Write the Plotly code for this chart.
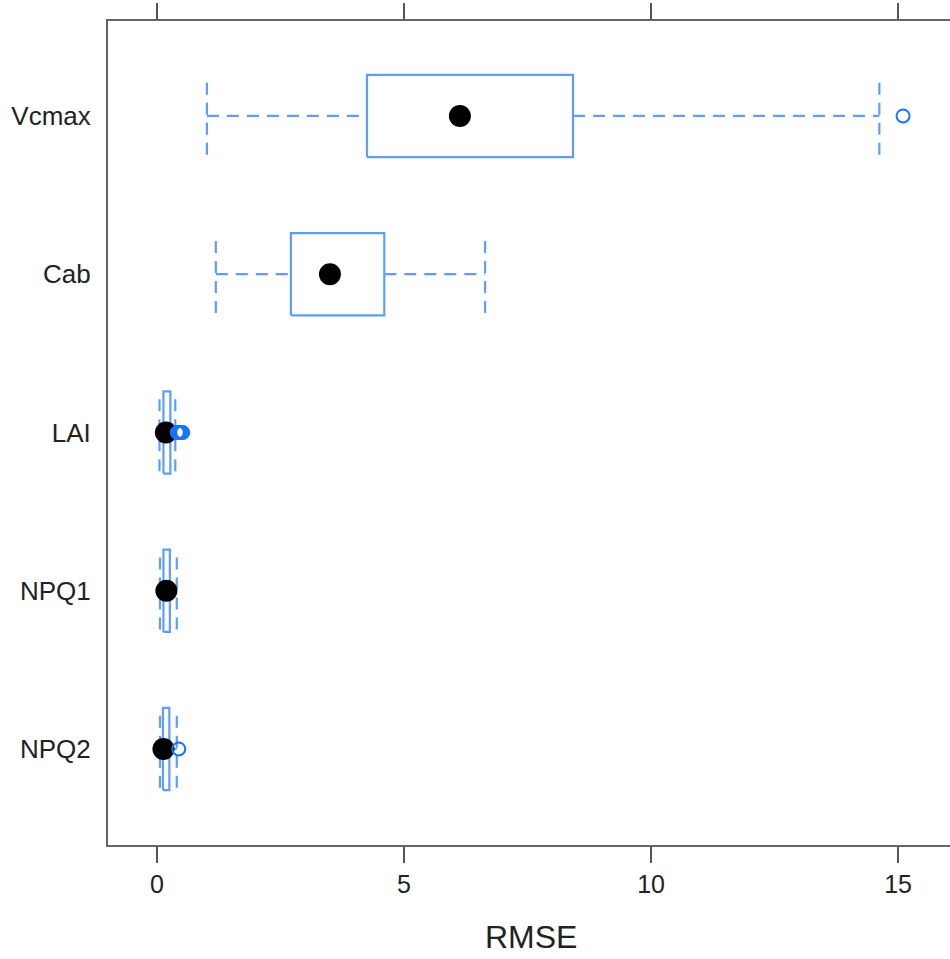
import plotly.graph_objects as go

categories = ["NPQ2", "NPQ1", "LAI", "Cab", "Vcmax"]
whisk_lo = [0.06, 0.06, 0.05, 1.19, 1.01]
q1 = [0.12, 0.13, 0.13, 2.71, 4.25]
median = [0.13, 0.19, 0.18, 3.50, 6.13]
q3 = [0.25, 0.26, 0.27, 4.60, 8.42]
whisk_hi = [0.40, 0.40, 0.37, 6.64, 14.62]
outliers = {
    "NPQ2": [0.44],
    "NPQ1": [],
    "LAI": [0.41, 0.44, 0.47, 0.50, 0.52],
    "Cab": [],
    "Vcmax": [15.1],
}
x_ticks = [0, 5, 10, 15]

LINE = "#5e9dff"
BOX_H = 0.26
CAP_H = 0.245
DASH = "12px,8px"

fig = go.Figure()
for i, cat in enumerate(categories):
    y = i
    fig.add_trace(go.Scatter(
        x=[whisk_lo[i], q1[i], None, q3[i], whisk_hi[i]],
        y=[y, y, None, y, y], mode="lines",
        line=dict(color=LINE, width=2.2, dash=DASH), hoverinfo="skip", showlegend=False))
    fig.add_trace(go.Scatter(
        x=[whisk_lo[i], whisk_lo[i], None, whisk_hi[i], whisk_hi[i]],
        y=[y - CAP_H, y + CAP_H, None, y - CAP_H, y + CAP_H], mode="lines",
        line=dict(color=LINE, width=2.2, dash=DASH), hoverinfo="skip", showlegend=False))
    fig.add_trace(go.Scatter(
        x=[q1[i], q3[i], q3[i], q1[i], q1[i]],
        y=[y - BOX_H, y - BOX_H, y + BOX_H, y + BOX_H, y - BOX_H], mode="lines",
        line=dict(color=LINE, width=2.2), hoverinfo="skip", showlegend=False))

fig.add_trace(go.Scatter(
    x=median, y=list(range(len(categories))), mode="markers",
    marker=dict(color="black", size=22), showlegend=False))

ox, oy = [], []
for i, cat in enumerate(categories):
    for v in outliers[cat]:
        ox.append(v)
        oy.append(i)
fig.add_trace(go.Scatter(
    x=ox, y=oy, mode="markers",
    marker=dict(color="rgba(0,0,0,0)", size=13, line=dict(color="#1a73ff", width=2)),
    showlegend=False))

fig.update_layout(
    width=950, height=959,
    margin=dict(l=108, r=0, t=21, b=114),
    plot_bgcolor="white", paper_bgcolor="white",
    font=dict(family="Liberation Sans, Arial, sans-serif", size=25, color="black"),
    xaxis=dict(
        range=[-0.992, 16.05], tickvals=x_ticks, ticktext=[str(t) for t in x_ticks],
        showline=True, linecolor="#666666", linewidth=2, mirror="ticks",
        ticks="outside", ticklen=16, tickwidth=2, tickcolor="#555555",
        showgrid=False, zeroline=False, tickfont=dict(size=25, color="#222222"),
    ),
    yaxis=dict(
        range=[-0.607, 4.6], tickvals=list(range(len(categories))), ticktext=categories,
        showline=True, linecolor="#666666", linewidth=2, mirror=False,
        ticks="", showgrid=False, zeroline=False, ticklabelstandoff=10,
        tickfont=dict(size=26, color="#222222"),
    ),
    annotations=[dict(
        text="RMSE", xref="paper", yref="paper", x=0.502, y=-0.1117,
        xanchor="center", yanchor="middle", showarrow=False,
        font=dict(size=32, color="#222222"))],
)

fig.write_html("out.html")
